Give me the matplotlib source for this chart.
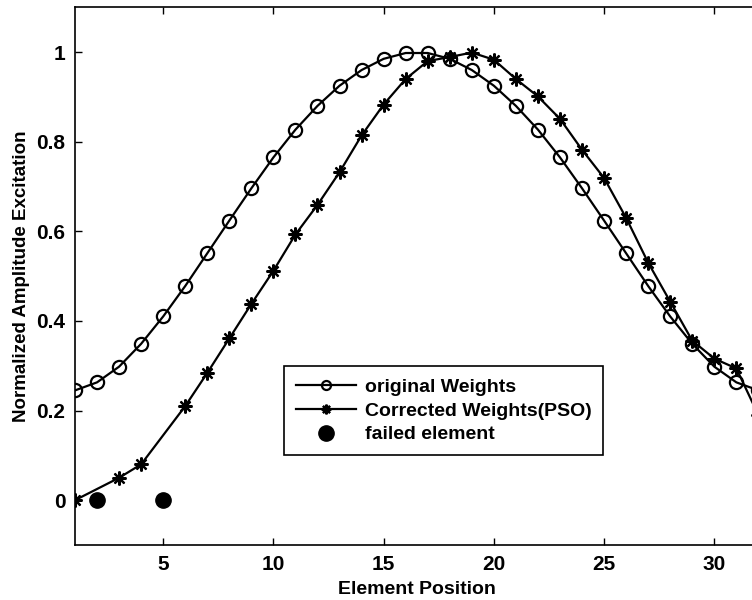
import numpy as np
import matplotlib
matplotlib.use('Agg')
import matplotlib.pyplot as plt

# element positions and weights
elements = list(range(1, 33))
original_weights = [0.245, 0.263, 0.298, 0.349, 0.410, 0.478, 0.551, 0.624,
                    0.696, 0.765, 0.827, 0.880, 0.925, 0.960, 0.985, 0.998,
                    0.998, 0.985, 0.960, 0.925, 0.880, 0.827, 0.765, 0.696,
                    0.624, 0.551, 0.478, 0.410, 0.349, 0.298, 0.263, 0.245]

# elements 2 and 5 failed -> not in the corrected curve
corrected_elements = [1, 3, 4, 6, 7, 8, 9, 10, 11, 12, 13, 14, 15, 16, 17,
                      18, 19, 20, 21, 22, 23, 24, 25, 26, 27, 28, 29, 30, 31, 32]
corrected_weights = [0.0, 0.050, 0.080, 0.210, 0.284, 0.361, 0.438, 0.512,
                     0.593, 0.659, 0.732, 0.814, 0.883, 0.940, 0.980, 0.989,
                     0.999, 0.983, 0.940, 0.901, 0.851, 0.782, 0.719, 0.630,
                     0.530, 0.443, 0.356, 0.316, 0.294, 0.19]

failed_elements = [2, 5]
failed_values = [0, 0]

xticks = [5, 10, 15, 20, 25, 30]
yticks = [0, 0.2, 0.4, 0.6, 0.8, 1]
ytick_labels = ['0', '0.2', '0.4', '0.6', '0.8', '1']

plt.rc('font', family='Liberation Sans', weight='bold', size=14)

fig = plt.figure(figsize=(7.52, 6), dpi=100)
# axes run a bit past the right edge, like the cropped original
ax = fig.add_axes([75 / 752, 55 / 600, 683.4 / 752, 537.7 / 600])

ax.plot(elements, original_weights, color='k', lw=1.6, marker='o',
        markersize=9.5, markerfacecolor='none', markeredgewidth=1.6,
        label='original Weights')
ax.plot(corrected_elements, corrected_weights, color='k', lw=1.6,
        marker=(8, 2, 0), markersize=10, markeredgewidth=1.6,
        label='Corrected Weights(PSO)')
ax.plot(failed_elements, failed_values, 'o', color='k', markersize=11,
        label='failed element')

ax.set_xlim(1, 32)
ax.set_ylim(-0.1, 1.1)
ax.set_xticks(xticks)
ax.set_yticks(yticks)
ax.set_yticklabels(ytick_labels)
ax.tick_params(direction='in', length=5, width=1, top=True, right=False,
               labelsize=15, pad=7)
for s in ax.spines.values():
    s.set_linewidth(1.2)

ax.set_xlabel('Element Position', fontsize=14, fontweight='bold', labelpad=5.5)
ax.set_ylabel('Normalized Amplitude Excitation', fontsize=13.5,
              fontweight='bold', labelpad=4.5)

leg = ax.legend(loc='upper left', bbox_to_anchor=(0.306, 0.332),
                borderaxespad=0, fancybox=False, edgecolor='k', framealpha=1,
                fontsize=14, handlelength=3.1, handletextpad=0.45,
                borderpad=0.6, labelspacing=0.32)
leg.get_frame().set_linewidth(1.2)
# smaller markers in the legend like matlab
leg.legend_handles[0].set_markersize(6.5)
leg.legend_handles[1].set_markersize(7)

fig.savefig('out.png', dpi=100)
